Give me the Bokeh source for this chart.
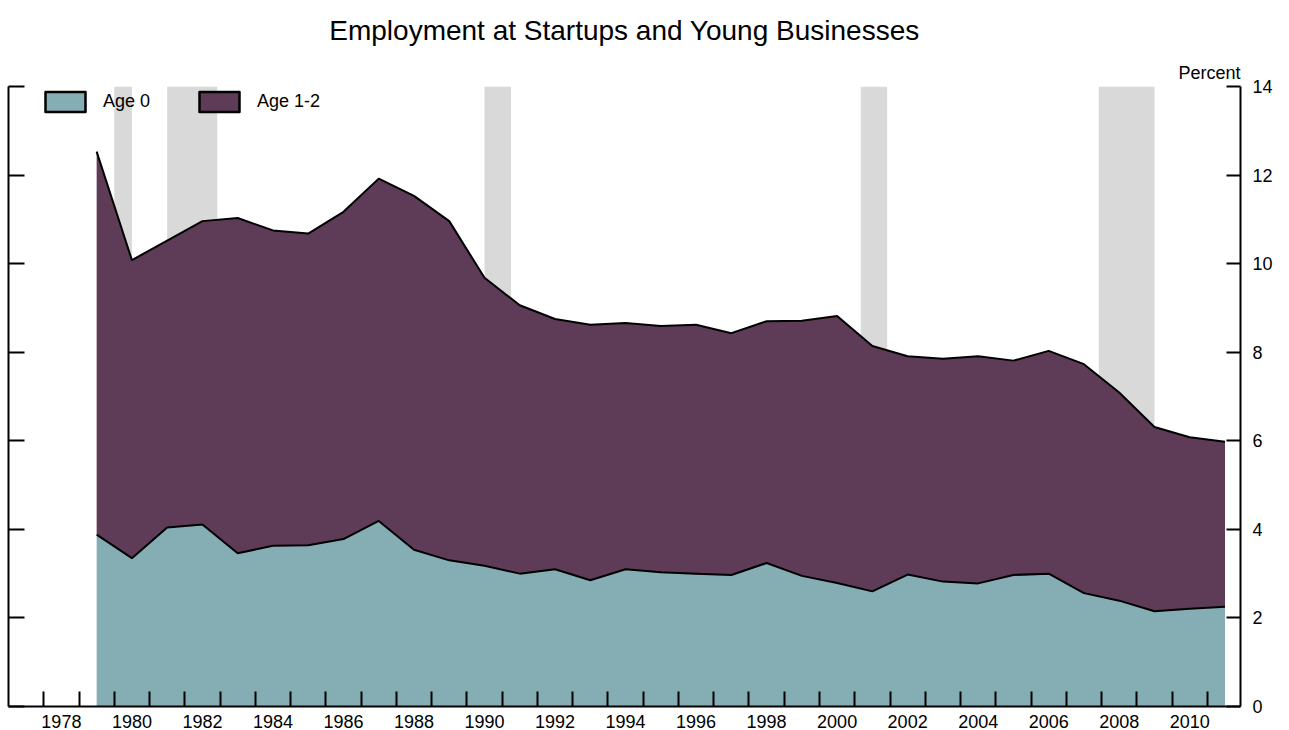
import numpy as np
from bokeh.plotting import figure
from bokeh.models import (FixedTicker, LinearAxis, Range1d, Legend, Title,
                          LegendItem, ColumnDataSource)
from bokeh.embed import file_html
from bokeh.resources import INLINE

# ---------------- data ----------------
years = list(range(1979, 2012))
age0 = [3.88, 3.35, 4.04, 4.11, 3.46, 3.63, 3.64, 3.78, 4.19, 3.54, 3.30,
        3.18, 3.00, 3.10, 2.85, 3.10, 3.03, 3.00, 2.97, 3.24, 2.95, 2.79,
        2.60, 2.98, 2.82, 2.78, 2.97, 3.00, 2.56, 2.39, 2.15, 2.21, 2.25]
age12 = [8.65, 6.73, 6.48, 6.85, 7.57, 7.12, 7.04, 7.39, 7.73, 7.99, 7.66,
         6.50, 6.06, 5.65, 5.77, 5.56, 5.56, 5.62, 5.46, 5.46, 5.76, 6.03,
         5.54, 4.93, 5.03, 5.13, 4.84, 5.03, 5.17, 4.70, 4.16, 3.87, 3.73]
recession_start = [1979.5, 1981.0, 1990.0, 2000.67, 2007.42]
recession_end = [1980.0, 1982.42, 1990.75, 2001.42, 2009.0]
x_labels = list(range(1978, 2011, 2))
x_minor = [y + 0.5 for y in range(1977, 2011)]
y_ticks = [0, 2, 4, 6, 8, 10, 12, 14]
series_names = ["Age 0", "Age 1-2"]
title_text = "Employment at Startups and Young Businesses"
unit_text = "Percent"

TEAL = "#84ADB4"
PURPLE = "#5E3B57"
GRAY = "#D9D9D9"
FONT = "Liberation Sans"

X0, X1 = 1976.5, 2011.44
Y0, Y1 = 0, 14

total = (np.array(age0) + np.array(age12)).tolist()
src = ColumnDataSource(dict(year=years, age0=age0, age12=age12, total=total))

p = figure(width=1280, height=730,
           x_range=Range1d(X0, X1), y_range=Range1d(Y0, Y1),
           output_backend="svg", toolbar_location=None,
           x_axis_location=None, y_axis_location=None,
           min_border_left=8, min_border_right=40,
           min_border_top=86, min_border_bottom=23)
p.outline_line_color = None
p.xgrid.grid_line_color = None
p.ygrid.grid_line_color = None
p.title.visible = False

# recession bands
p.quad(left=recession_start, right=recession_end, bottom=Y0, top=Y1,
       fill_color=GRAY, line_color=None)

# stacked areas
p.varea_stack(stackers=["age0", "age12"], x="year", color=[TEAL, PURPLE],
              source=src)
p.line("year", "age0", source=src, line_color="black", line_width=2)
p.line("year", "total", source=src, line_color="black", line_width=2)

# legend proxies (outlined boxes, placed outside the visible range)
proxy = ColumnDataSource(dict(left=[X0 - 100], right=[X0 - 99], top=[1], bottom=[0]))
r0 = p.quad(left="left", right="right", top="top", bottom="bottom", source=proxy,
            fill_color=TEAL, line_color="black", line_width=2.5, line_join="round")
r1 = p.quad(left="left", right="right", top="top", bottom="bottom", source=proxy,
            fill_color=PURPLE, line_color="black", line_width=2.5, line_join="round")
legend = Legend(items=[LegendItem(label=series_names[0], renderers=[r0]),
                       LegendItem(label=series_names[1], renderers=[r1])],
                location=(32, 592), orientation="horizontal",
                glyph_width=50, glyph_height=25, label_standoff=13,
                spacing=44, padding=0, margin=0,
                border_line_color=None, background_fill_alpha=0,
                label_text_font=FONT, label_text_font_size="18px",
                label_text_color="black")
p.add_layout(legend)

# axes
xaxis = LinearAxis(ticker=FixedTicker(ticks=x_labels, minor_ticks=x_minor),
                   major_tick_line_color=None,
                   minor_tick_in=15, minor_tick_out=0,
                   minor_tick_line_width=2, minor_tick_line_color="black",
                   axis_line_width=2, axis_line_color="black",
                   major_label_text_font=FONT, major_label_text_font_size="18px",
                   major_label_text_color="black", major_label_standoff=2)
p.add_layout(xaxis, "below")

raxis = LinearAxis(ticker=FixedTicker(ticks=y_ticks, minor_ticks=[]),
                   major_tick_in=14, major_tick_out=0,
                   major_tick_line_width=2, major_tick_line_color="black",
                   axis_line_width=2, axis_line_color="black",
                   major_label_text_font=FONT, major_label_text_font_size="18px",
                   major_label_text_color="black", major_label_standoff=12)
p.add_layout(raxis, "right")

laxis = LinearAxis(ticker=FixedTicker(ticks=[], minor_ticks=y_ticks),
                   major_tick_line_color=None,
                   minor_tick_in=16, minor_tick_out=0,
                   minor_tick_line_width=2, minor_tick_line_color="black",
                   axis_line_width=2, axis_line_color="black",
                   major_label_standoff=0)
p.add_layout(laxis, "left")

# titles above the frame
p.add_layout(Title(text=unit_text, align="right", text_font=FONT,
                   text_font_size="18px", text_font_style="normal",
                   text_color="black", standoff=8), "above")
p.add_layout(Title(text=title_text, align="center", vertical_align="top",
                   text_font=FONT, text_font_size="28px",
                   text_font_style="normal", text_color="black",
                   standoff=18), "above")

open("out.html", "w").write(file_html(p, INLINE))
